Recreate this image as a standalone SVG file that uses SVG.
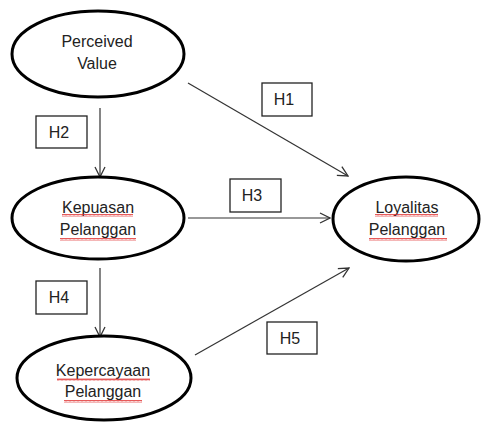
<svg xmlns="http://www.w3.org/2000/svg" width="481" height="423" viewBox="0 0 481 423">
<defs>
<style>
.node ellipse{fill:#fff;stroke:#000;stroke-width:3}
.lbl{font-family:"Liberation Sans",Arial,sans-serif;font-size:16px;fill:#222;text-anchor:middle}
.hbox rect{fill:#fff;stroke:#222;stroke-width:1.3}
.hbox text{font-family:"Liberation Sans",Arial,sans-serif;font-size:16px;fill:#222;text-anchor:middle}
.conn line{stroke:#333;stroke-width:1.2;fill:none}
.sq{fill:url(#squig)}
</style>
<marker id="arr" viewBox="0 0 12 12" refX="11" refY="6" markerWidth="12" markerHeight="12" markerUnits="userSpaceOnUse" orient="auto">
<path d="M1,1 L11,6 L1,11" fill="none" stroke="#333" stroke-width="1.3"/>
</marker>
<pattern id="squig" width="4" height="3" patternUnits="userSpaceOnUse">
<path d="M0,2.5 L1,0.5 L2,2.5 L3,0.5 L4,2.5" fill="none" stroke="#e03030" stroke-width="0.8"/>
</pattern>
</defs>
<rect width="481" height="423" fill="#fff"/>
<g id="connectors" class="conn">
<line x1="188" y1="83" x2="348" y2="176" marker-end="url(#arr)"/>
<line x1="100" y1="108" x2="100" y2="177" marker-end="url(#arr)"/>
<line x1="188" y1="218" x2="330" y2="218" marker-end="url(#arr)"/>
<line x1="100" y1="268" x2="100" y2="337" marker-end="url(#arr)"/>
<line x1="195" y1="355" x2="349" y2="268" marker-end="url(#arr)"/>
</g>
<g id="node-perceived" class="node">
<ellipse cx="98" cy="54" rx="86" ry="43"/>
<text class="lbl" x="97" y="47">Perceived</text>
<text class="lbl" x="97" y="69">Value</text>
</g>
<g id="node-kepuasan" class="node">
<ellipse cx="98" cy="218" rx="86" ry="41"/>
<text class="lbl" x="98" y="213">Kepuasan</text>
<text class="lbl" x="98" y="235">Pelanggan</text>
<rect class="sq" x="62" y="214" width="71" height="3"/>
<rect class="sq" x="60" y="238" width="76" height="3"/>
</g>
<g id="node-kepercayaan" class="node">
<ellipse cx="104" cy="378" rx="87" ry="42"/>
<text class="lbl" x="103" y="376">Kepercayaan</text>
<text class="lbl" x="103" y="397">Pelanggan</text>
<rect class="sq" x="57" y="378" width="93" height="3"/>
<rect class="sq" x="64" y="400" width="78" height="3"/>
</g>
<g id="node-loyalitas" class="node">
<ellipse cx="406" cy="219" rx="73" ry="42"/>
<text class="lbl" x="407" y="213">Loyalitas</text>
<text class="lbl" x="407" y="235">Pelanggan</text>
<rect class="sq" x="375" y="214" width="63" height="3"/>
<rect class="sq" x="369" y="238" width="78" height="3"/>
</g>
<g id="h1" class="hbox"><rect x="262" y="83" width="50" height="33"/><text x="284" y="105">H1</text></g>
<g id="h2" class="hbox"><rect x="36" y="116" width="51" height="32"/><text x="59" y="138">H2</text></g>
<g id="h3" class="hbox"><rect x="230" y="179" width="51" height="33"/><text x="252" y="201">H3</text></g>
<g id="h4" class="hbox"><rect x="36" y="281" width="51" height="33"/><text x="59" y="303">H4</text></g>
<g id="h5" class="hbox"><rect x="267" y="322" width="50" height="32"/><text x="290" y="344">H5</text></g>
</svg>
